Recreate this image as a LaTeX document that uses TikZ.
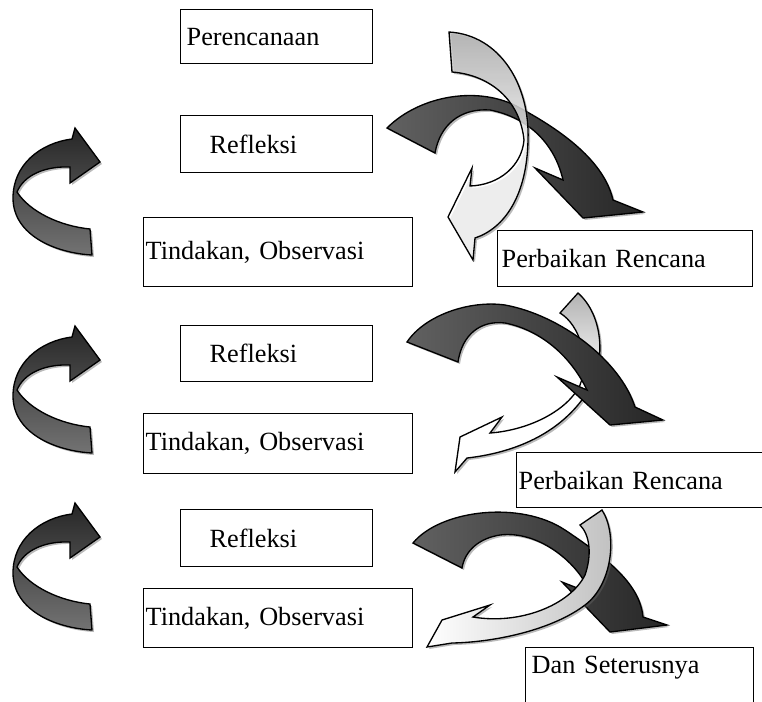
\documentclass[tikz,border=0pt]{standalone}
\usepackage{fontspec}
\setmainfont{Liberation Serif}
\usetikzlibrary{shadows}
\tikzstyle{kotak} = [rectangle, draw=black, line width=1pt, anchor=north west, inner ysep=0pt, align=left, font=\fontsize{19.7}{23}\selectfont]
\tikzstyle{refl} = [kotak, text width=100.5pt, inner xsep=21.75pt]
\tikzstyle{tind} = [kotak, text width=198.75pt, inner xsep=1.5pt]
\tikzstyle{bayang} = [drop shadow={shadow xshift=1.5pt, shadow yshift=-1.5pt, opacity=0.45, fill=black!60}]
\tikzstyle{gelap} = [draw=black, line width=1pt, left color=black!62, right color=black!85, bayang]
\tikzstyle{terang} = [draw=black, line width=1pt, top color=black!30, bottom color=white, middle color=white, bayang]
\tikzstyle{kiri} = [draw=black, line width=1pt, top color=black!85, bottom color=black!55, bayang]

\begin{document}
\begin{tikzpicture}[x=0.75pt, y=-0.75pt]
\useasboundingbox (0,0) rectangle (762,701);

% kotak-kotak
\node (ren) [kotak, text width=135pt, inner xsep=4.5pt, minimum height=40.5pt] at (180,9) {Perencanaan};
\node (ref1) [refl, minimum height=42.75pt] at (180,115) {Refleksi};
\node (tin1) [tind, minimum height=51.75pt] at (143,217) {Tindakan, Observasi};
\node (per1) [kotak, text width=185.25pt, inner xsep=3pt, minimum height=42pt] at (497,230) {Perbaikan Rencana};
\node (ref2) [refl, minimum height=42pt] at (180,325) {Refleksi};
\node (tin2) [tind, minimum height=45pt] at (143,413) {Tindakan, Observasi};
\node (per2) [kotak, text width=192pt, inner xsep=1.5pt, minimum height=41.25pt] at (516,452) {Perbaikan Rencana};
\node (ref3) [refl, minimum height=42.75pt] at (180,509) {Refleksi};
\node (tin3) [tind, minimum height=44.25pt] at (143,588) {Tindakan, Observasi};
\node (dan) [kotak, text width=162pt, inner xsep=4.5pt, text height=19.5pt, text depth=29.25pt] at (525,647) {Dan Seterusnya};

% panah kiri
\draw [kiri] (90,229) -- (92,255) .. controls (55,253) and (13,235) .. (13,198) .. controls (13,165) and (40,143) .. (72,139) -- (75,128) -- (100,162) -- (70,183) -- (70,167) .. controls (45,166) and (24,175) .. (17,192) .. controls (30,212) and (60,226) .. (90,229) -- cycle;
\draw [kiri, shift={(0,198)}] (90,229) -- (92,255) .. controls (55,253) and (13,235) .. (13,198) .. controls (13,165) and (40,143) .. (72,139) -- (75,128) -- (100,162) -- (70,183) -- (70,167) .. controls (45,166) and (24,175) .. (17,192) .. controls (30,212) and (60,226) .. (90,229) -- cycle;
\draw [kiri, shift={(0,375)}] (90,229) -- (92,255) .. controls (55,253) and (13,235) .. (13,198) .. controls (13,165) and (40,143) .. (72,139) -- (75,128) -- (100,162) -- (70,183) -- (70,167) .. controls (45,166) and (24,175) .. (17,192) .. controls (30,212) and (60,226) .. (90,229) -- cycle;

% siklus 1
\draw [gelap] (387,128) .. controls (420,95) and (480,85) .. (520,108) .. controls (570,135) and (605,165) .. (613,200) -- (643,212) -- (583,218) -- (535,168) -- (563,180) .. controls (555,145) and (530,118) .. (490,110) .. controls (460,108) and (440,125) .. (435,153) -- cycle;
\draw [terang, top color=black!30, middle color=white, fill opacity=0.75] (449,32) .. controls (500,35) and (530,85) .. (528,140) .. controls (527,195) and (505,228) .. (475,238) -- (473,260) -- (448,217) -- (472,168) -- (470,186) .. controls (500,185) and (522,165) .. (524,140) .. controls (520,100) and (490,75) .. (452,72) -- cycle;

% siklus 2
\draw [terang] (578,293) .. controls (603,315) and (606,360) .. (590,388) .. controls (565,430) and (520,452) .. (467,458) -- (455,472) -- (460,437) -- (502,417) -- (490,433) .. controls (530,430) and (568,410) .. (580,385) .. controls (590,360) and (580,325) .. (560,313) -- cycle;
\draw [gelap] (407,342) .. controls (425,315) and (470,300) .. (505,305) .. controls (560,315) and (620,360) .. (635,407) -- (663,420) -- (610,425) -- (557,377) -- (587,390) .. controls (570,355) and (540,330) .. (505,323) .. controls (480,320) and (462,335) .. (458,362) -- cycle;

% siklus 3
\draw [gelap] (413,543) .. controls (440,510) and (520,500) .. (565,530) .. controls (610,560) and (640,585) .. (643,617) -- (667,625) -- (610,632) -- (562,582) -- (590,593) .. controls (580,565) and (540,530) .. (500,535) .. controls (480,538) and (465,550) .. (462,568) -- cycle;
\draw [terang, left color=white, right color=black!25] (602,510) .. controls (618,535) and (612,585) .. (585,605) .. controls (555,628) and (500,642) .. (452,643) -- (427,647) -- (442,620) -- (490,605) -- (473,617) .. controls (520,625) and (570,605) .. (585,575) .. controls (592,555) and (590,535) .. (580,525) -- cycle;

\end{tikzpicture}
\end{document}
